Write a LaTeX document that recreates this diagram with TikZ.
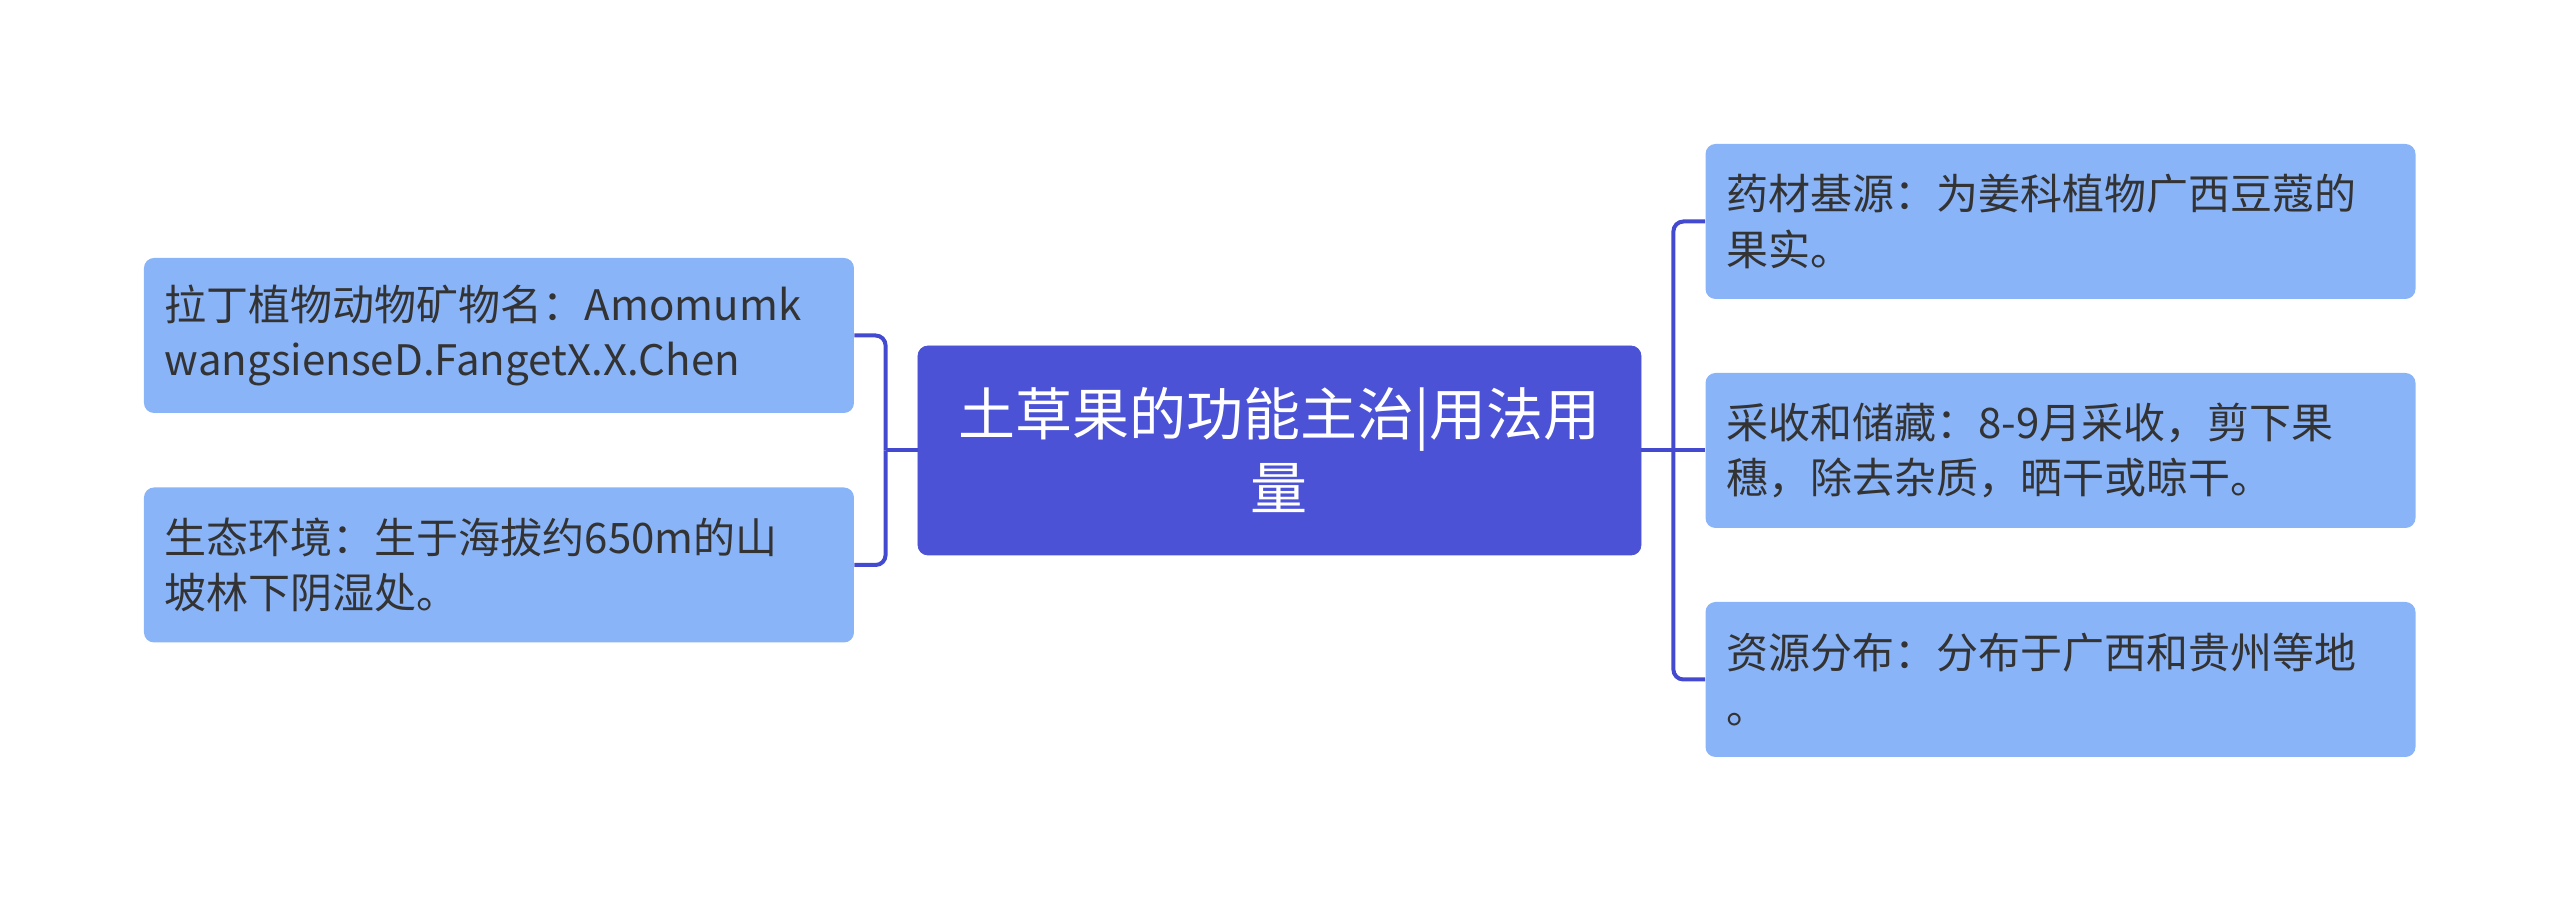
\documentclass[tikz,border=0pt]{standalone}
\usepackage{fontspec}
\setmainfont{Noto Sans CJK SC}
\usepackage{xcolor}
\usepackage{tikz}
\usetikzlibrary{
  positioning,
  calc
}
\definecolor{rootblue}{HTML}{4B52D6}
\definecolor{linkblue}{HTML}{434AD0}
\definecolor{leafblue}{HTML}{8AB4F8}
\definecolor{leaftext}{HTML}{333333}
\tikzset{
  topic/.style={rectangle,draw=rootblue,fill=rootblue,rounded corners=5pt,text=white,
    align=center,text width=340pt,inner xsep=10.75pt,minimum width=361.5pt,minimum height=104.5pt,
    font=\fontsize{28.5pt}{37pt}\selectfont},
  leaf/.style={rectangle,fill=leafblue,rounded corners=5pt,text=leaftext,
    align=left,text width=334pt,inner xsep=10.5pt,minimum width=355pt,minimum height=77.5pt,
    font=\fontsize{21pt}{27.75pt}\selectfont},
  link/.style={draw=linkblue,line width=2pt},
  bracket/.style={link,rounded corners=5pt}
}

\begin{document}
\begin{tikzpicture}[node distance=390pt, on grid, auto]
    \useasboundingbox (-639.75pt,-226.25pt) rectangle (640.25pt,225.25pt);
    \node[topic] (root) {土草果的功能主治|用法用\\量};
    \node[leaf,above left=57.5pt and 390.25pt of root] (latin) {拉丁植物动物矿物名：Amomumk\\wangsienseD.FangetX.X.Chen};
    \node[leaf,below left=57.25pt and 390.25pt of root] (habitat) {生态环境：生于海拔约650m的山\\坡林下阴湿处。};
    \node[leaf,above right=114.5pt and 390.5pt of root] (source) {药材基源：为姜科植物广西豆蔻的\\果实。};
    \node[leaf,right=390.5pt of root] (harvest) {采收和储藏：8-9月采收，剪下果\\穗，除去杂质，晒干或晾干。};
    \node[leaf,below right=114.5pt and 390.5pt of root] (spread) {资源分布：分布于广西和贵州等地\\。};

    \coordinate[left=16pt of root.west] (ljoin);
    \coordinate[right=16pt of root.east] (rjoin);

    \draw[link] (root.west) -- (ljoin);
    \draw[bracket] (ljoin) |- (latin.east);
    \draw[bracket] (ljoin) |- (habitat.east);
    \draw[link] (root.east) -- (harvest.west);
    \draw[bracket] (rjoin) |- (source.west);
    \draw[bracket] (rjoin) |- (spread.west);
\end{tikzpicture}
\end{document}
